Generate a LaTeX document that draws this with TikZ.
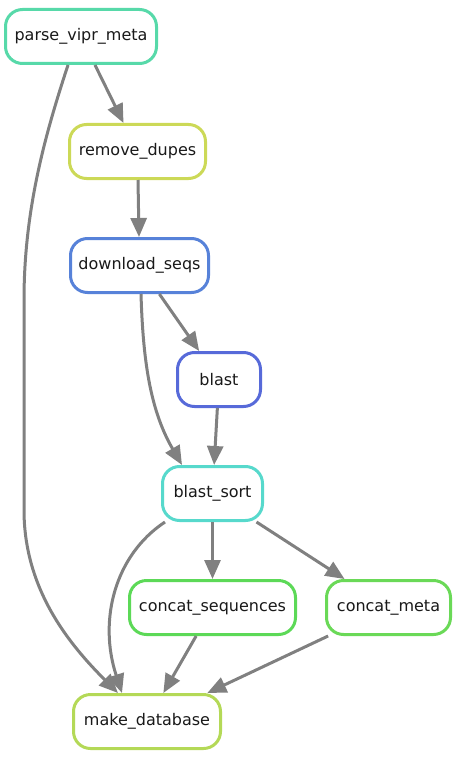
\documentclass[tikz,border=0pt]{standalone}
\usepackage{fontspec}
\setmainfont{DejaVu Sans}
\usetikzlibrary{arrows.meta}

\definecolor{cparse}{RGB}{87,217,169}
\definecolor{cdupes}{RGB}{204,217,87}
\definecolor{cdownload}{RGB}{87,130,217}
\definecolor{cblast}{RGB}{87,106,217}
\definecolor{cblastsort}{RGB}{87,217,204}
\definecolor{cconcatseq}{RGB}{92,217,87}
\definecolor{cconcatmeta}{RGB}{106,217,87}
\definecolor{cmakedb}{RGB}{180,217,87}
\definecolor{edgegray}{RGB}{128,128,128}

\begin{document}
\begin{tikzpicture}[
    x=1pt, y=-1pt,
    rule/.style={draw, line width=3pt, rounded corners=17pt, fill=white, text=black!90,
      minimum height=54pt, inner sep=0pt, font=\fontsize{16}{19}\selectfont},
    arrow/.style={-{Triangle[length=19pt, width=16pt]}, line width=3pt, draw=edgegray}
    ]
    \useasboundingbox (0,0) rectangle (457,757);

    \node (parse) [rule, draw=cparse, minimum width=151pt] at (81,36.5) {parse\_vipr\_meta};
    \node (dupes) [rule, draw=cdupes, minimum width=136pt] at (137.5,151.5) {remove\_dupes};
    \node (download) [rule, draw=cdownload, minimum width=138pt] at (139.5,265.5) {download\_seqs};
    \node (blast) [rule, draw=cblast, minimum width=83pt] at (219,379.5) {blast};
    \node (blastsort) [rule, draw=cblastsort, minimum width=100pt] at (212.5,493.5) {blast\_sort};
    \node (concatseq) [rule, draw=cconcatseq, minimum width=166pt] at (212.5,607.5) {concat\_sequences};
    \node (concatmeta) [rule, draw=cconcatmeta, minimum width=124pt] at (388.5,607.5) {concat\_meta};
    \node (makedb) [rule, draw=cmakedb, minimum width=147pt] at (147,721.5) {make\_database};

    \draw[arrow] (parse) -- (dupes);
    \draw[arrow] (dupes) -- (download);
    \draw[arrow] (download) -- (blast);
    \draw[arrow] (blast) -- (blastsort);
    \draw[arrow] (blastsort) -- (concatseq);
    \draw[arrow] (blastsort) -- (concatmeta);
    \draw[arrow] (concatseq) -- (makedb);
    \draw[arrow] (concatmeta) -- (makedb);

    % curved edges
    \draw[arrow] ([xshift=-13pt]parse.south) .. controls (45,135) and (24,210) .. (24,300)
        -- (24,510) .. controls (24,590) and (70,645) .. ([xshift=-29pt]makedb.north);
    \draw[arrow] ([xshift=1.5pt]download.south) .. controls (143,360) and (150,410) .. ([xshift=-30.5pt]blastsort.north);
    \draw[arrow] ([xshift=-47.5pt]blastsort.south) .. controls (115,555) and (98,620) .. ([xshift=-25pt]makedb.north);
\end{tikzpicture}
\end{document}
